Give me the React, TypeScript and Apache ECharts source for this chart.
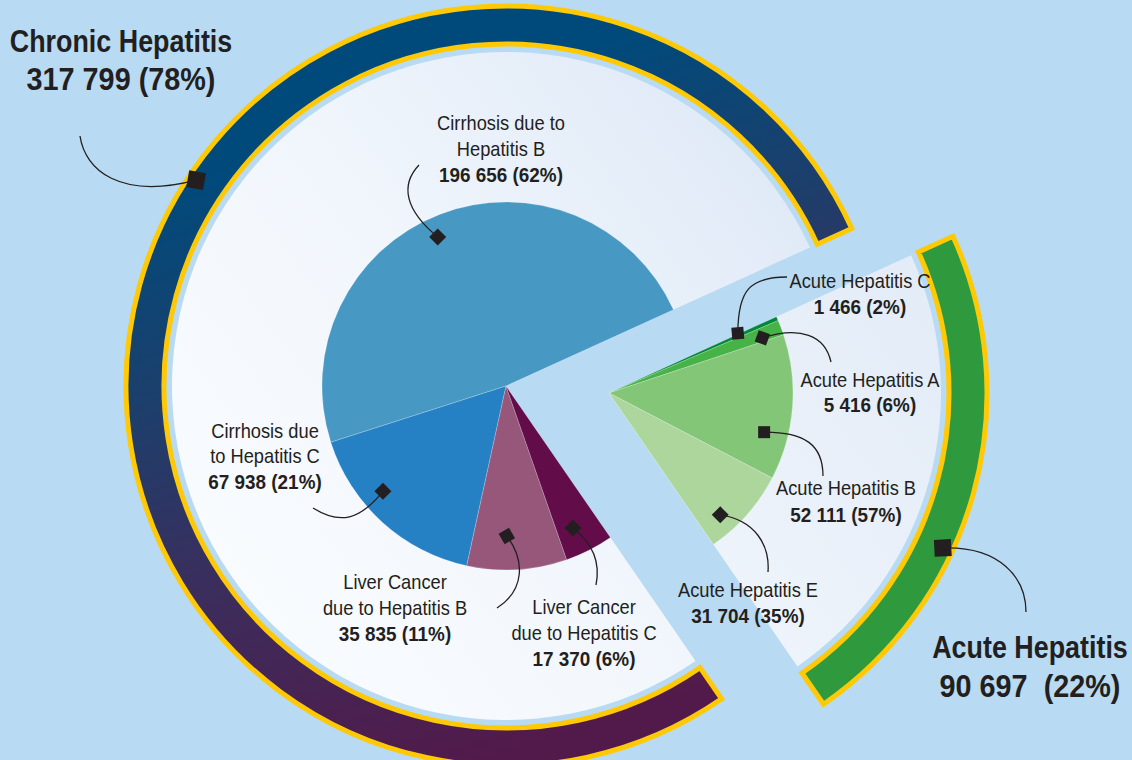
import React, { useEffect, useRef } from 'react';
import * as echarts from 'echarts';

// ---------- data ----------
const groupNames = ['Chronic Hepatitis', 'Acute Hepatitis'];
const groupValues = [317799, 90697];
const groupPct = [78, 22];

const chronicNames = [
  'Cirrhosis due to\nHepatitis B',
  'Cirrhosis due\nto Hepatitis C',
  'Liver Cancer\ndue to Hepatitis B',
  'Liver Cancer\ndue to Hepatitis C',
];
const chronicValues = [196656, 67938, 35835, 17370];
const chronicPct = [62, 21, 11, 6];

const acuteNames = ['Acute Hepatitis C', 'Acute Hepatitis A', 'Acute Hepatitis B', 'Acute Hepatitis E'];
const acuteValues = [1466, 5416, 52111, 31704];
const acutePct = [2, 6, 57, 35];

// ---------- styles / layout ----------
const BG = '#b8daf2';
const INK = '#231f20';
const YELLOW = '#ffc906';
const FONT = "'Liberation Sans', Arial, sans-serif";
const chronicColors = ['#4799c3', '#2681c4', '#96577a', '#620c4a'];
const acuteColors = ['#00873b', '#47b347', '#84c678', '#acd69c'];
const C1 = [506, 386];
const C2 = [609, 393];
const START = 24.5;

const chronicLabelPos = [
  { cx: 501, y: 130, lh: 26 },
  { cx: 265, y: 438, lh: 25.5 },
  { cx: 395, y: 589, lh: 26 },
  { cx: 584, y: 614, lh: 26 },
];
const acuteLabelPos = [
  { cx: 860, y: 288, lh: 26 },
  { cx: 870, y: 387, lh: 25 },
  { cx: 846, y: 495, lh: 27 },
  { cx: 748, y: 597, lh: 26 },
];
const groupLabelPos = [
  { cx: 121, y: 52, lh: 38 },
  { cx: 1030, y: 658, lh: 39 },
];
const chronicMarker = [
  { t: 0.52, r: 164, rot: 45 },
  { t: 0.38, r: 162, rot: 45 },
  { t: 0.4, r: 150, rot: 30 },
  { t: 0.39, r: 157, rot: 45 },
];
const acuteMarker = [
  { t: -0.3, r: 142, rot: 5 },
  { t: 0.72, r: 163, rot: -20 },
  { t: 0.71, r: 160, rot: 0 },
  { t: 0.72, r: 165, rot: 45 },
];
const chronicCurves = [
  [405, 210, 400, 185, 419, 165],
  [360, 520, 340, 525, 313, 508],
  [525, 560, 525, 590, 497, 608],
  [595, 545, 600, 565, 596, 585],
];
const acuteCurves = [
  [738, 290, 750, 277, 787, 277],
  [800, 326, 825, 335, 831, 362],
  [805, 432, 823, 445, 823, 476],
  [755, 520, 770, 545, 768, 572],
];
const groupMarker = [
  { ang: 146.4, r: 372, rot: -10 },
  { ang: -24.9, r: 368, rot: 3 },
];
const groupCurves = [
  [120, 200, 85, 170, 80, 136],
  [1000, 546, 1026, 578, 1026, 612],
];

const fmt = (v: number) => String(v).replace(/\B(?=(\d{3})+(?!\d))/g, ' ');
const polar = (c: number[], ang: number, r: number) => {
  const a = (ang * Math.PI) / 180;
  return [c[0] + r * Math.cos(a), c[1] - r * Math.sin(a)];
};

export default function App() {
  const ref = useRef<HTMLDivElement>(null);
  useEffect(() => {
    if (!ref.current) return;
    const chart = echarts.init(ref.current, undefined, { renderer: 'svg' });
    const total = groupValues[0] + groupValues[1];
    const degPer = 360 / total;
    const hidden = { color: 'rgba(0,0,0,0)', borderWidth: 0 };

    const basePie = {
      type: 'pie',
      silent: true,
      label: { show: false },
      labelLine: { show: false },
      emphasis: { disabled: true },
      avoidLabelOverlap: false,
      startAngle: START,
      minAngle: 0,
    };

    const chronicWhite = new echarts.graphic.LinearGradient(0, 0.9, 1, 0.1, [
      { offset: 0, color: '#fbfdff' },
      { offset: 0.5, color: '#f1f6fc' },
      { offset: 1, color: '#dde8f6' },
    ]);
    const acuteWhite = new echarts.graphic.LinearGradient(0, 1, 1, 0, [
      { offset: 0, color: '#f3f7fc' },
      { offset: 1, color: '#e2ebf7' },
    ]);
    const ringGrad = new echarts.graphic.LinearGradient(
      73, 219, 277, 831,
      [
        { offset: 0, color: '#004a7b' },
        { offset: 0.3, color: '#1c3f6c' },
        { offset: 0.6, color: '#3a2e5d' },
        { offset: 1, color: '#521a4a' },
      ],
      true
    );

    const series: any[] = [
      {
        ...basePie,
        center: C1,
        radius: [0, 334],
        clockwise: false,
        data: [
          { name: groupNames[0], value: groupValues[0], itemStyle: { color: chronicWhite } },
          { name: 'rest', value: groupValues[1], itemStyle: hidden },
        ],
      },
      {
        ...basePie,
        center: C2,
        radius: [0, 332],
        clockwise: true,
        data: [
          { name: groupNames[1], value: groupValues[1], itemStyle: { color: acuteWhite } },
          { name: 'rest', value: groupValues[0], itemStyle: hidden },
        ],
      },
      {
        ...basePie,
        center: C1,
        radius: [342, 380],
        clockwise: false,
        data: [
          {
            name: groupNames[0],
            value: groupValues[0],
            itemStyle: { color: ringGrad, borderColor: YELLOW, borderWidth: 5, borderJoin: 'miter' },
          },
          { name: 'rest', value: groupValues[1], itemStyle: hidden },
        ],
      },
      {
        ...basePie,
        center: C2,
        radius: [340, 378],
        clockwise: true,
        data: [
          {
            name: groupNames[1],
            value: groupValues[1],
            itemStyle: { color: '#2f9a3d', borderColor: YELLOW, borderWidth: 5, borderJoin: 'miter' },
          },
          { name: 'rest', value: groupValues[0], itemStyle: hidden },
        ],
      },
      {
        ...basePie,
        center: C1,
        radius: [0, 184],
        clockwise: false,
        data: [
          ...chronicValues.map((v, i) => ({
            name: chronicNames[i].replace('\n', ' '),
            value: v,
            itemStyle: { color: chronicColors[i], borderColor: 'rgba(255,255,255,0.35)', borderWidth: 0.6 },
          })),
          { name: 'rest', value: groupValues[1], itemStyle: hidden },
        ],
      },
      {
        ...basePie,
        center: C2,
        radius: [0, 184],
        clockwise: true,
        data: [
          ...acuteValues.map((v, i) => ({
            name: acuteNames[i],
            value: v,
            itemStyle: { color: acuteColors[i], borderColor: 'rgba(255,255,255,0.35)', borderWidth: 0.6 },
          })),
          { name: 'rest', value: groupValues[0], itemStyle: hidden },
        ],
      },
    ];

    const lines: any[] = [];
    const marks: any[] = [];
    const texts: any[] = [];

    const addCurve = (p: number[], cv: number[]) => {
      lines.push({
        type: 'bezierCurve',
        z: 100,
        shape: { x1: p[0], y1: p[1], cpx1: cv[0], cpy1: cv[1], cpx2: cv[2], cpy2: cv[3], x2: cv[4], y2: cv[5] },
        style: { stroke: INK, lineWidth: 1.3, fill: null },
        silent: true,
      });
    };
    const addMarker = (p: number[], rot: number, size: number) => {
      marks.push({
        type: 'rect',
        z: 101,
        x: p[0],
        y: p[1],
        rotation: (rot * Math.PI) / 180,
        shape: { x: -size / 2, y: -size / 2, width: size, height: size },
        style: { fill: INK },
        silent: true,
      });
    };
    const addText = (lns: string[], boldIdx: number[], pos: any, size: number, title = false) => {
      lns.forEach((s, k) => {
        const bold = title || boldIdx.includes(k);
        const isNum = /^[\d\s()%]+$/.test(s);
        const sx = isNum ? 0.9 : title ? 0.84 : 0.87;
        texts.push({
          type: 'text',
          z: 102,
          x: pos.cx,
          y: pos.y + k * pos.lh - size * 0.36,
          scaleX: sx,
          style: {
            text: s,
            fill: INK,
            font: `${bold ? 'bold ' : ''}${size}px ${FONT}`,
            align: 'center',
            verticalAlign: 'middle',
          },
          silent: true,
        });
      });
    };

    // chronic slices
    let cum = 0;
    chronicValues.forEach((v, i) => {
      const ang = START + (cum + chronicMarker[i].t * v) * degPer;
      cum += v;
      const p = polar(C1, ang, chronicMarker[i].r);
      addCurve(p, chronicCurves[i]);
      addMarker(p, chronicMarker[i].rot, 12);
      const nl = chronicNames[i].split('\n');
      addText([...nl, `${fmt(v)} (${chronicPct[i]}%)`], [nl.length], chronicLabelPos[i], 21);
    });
    // acute slices
    cum = 0;
    acuteValues.forEach((v, i) => {
      const ang = START - (cum + acuteMarker[i].t * v) * degPer;
      cum += v;
      const p = polar(C2, ang, acuteMarker[i].r);
      addCurve(p, acuteCurves[i]);
      addMarker(p, acuteMarker[i].rot, 12);
      const nl = acuteNames[i].split('\n');
      addText([...nl, `${fmt(v)} (${acutePct[i]}%)`], [nl.length], acuteLabelPos[i], 21);
    });
    // groups
    groupValues.forEach((v, i) => {
      const c = i === 0 ? C1 : C2;
      const p = polar(c, groupMarker[i].ang, groupMarker[i].r);
      addCurve(p, groupCurves[i]);
      addMarker(p, groupMarker[i].rot, 17);
      const sep = i === 0 ? ' ' : '  ';
      addText([groupNames[i], `${fmt(v)}${sep}(${groupPct[i]}%)`], [], groupLabelPos[i], 32, true);
    });

    chart.setOption({
      animation: false,
      backgroundColor: BG,
      series,
      graphic: { elements: [...lines, ...marks, ...texts] },
    });
    return () => chart.dispose();
  }, []);

  return (
    <div
      ref={ref}
      style={{ position: 'fixed', left: 0, top: 0, width: 1132, height: 760, background: BG }}
    />
  );
}
